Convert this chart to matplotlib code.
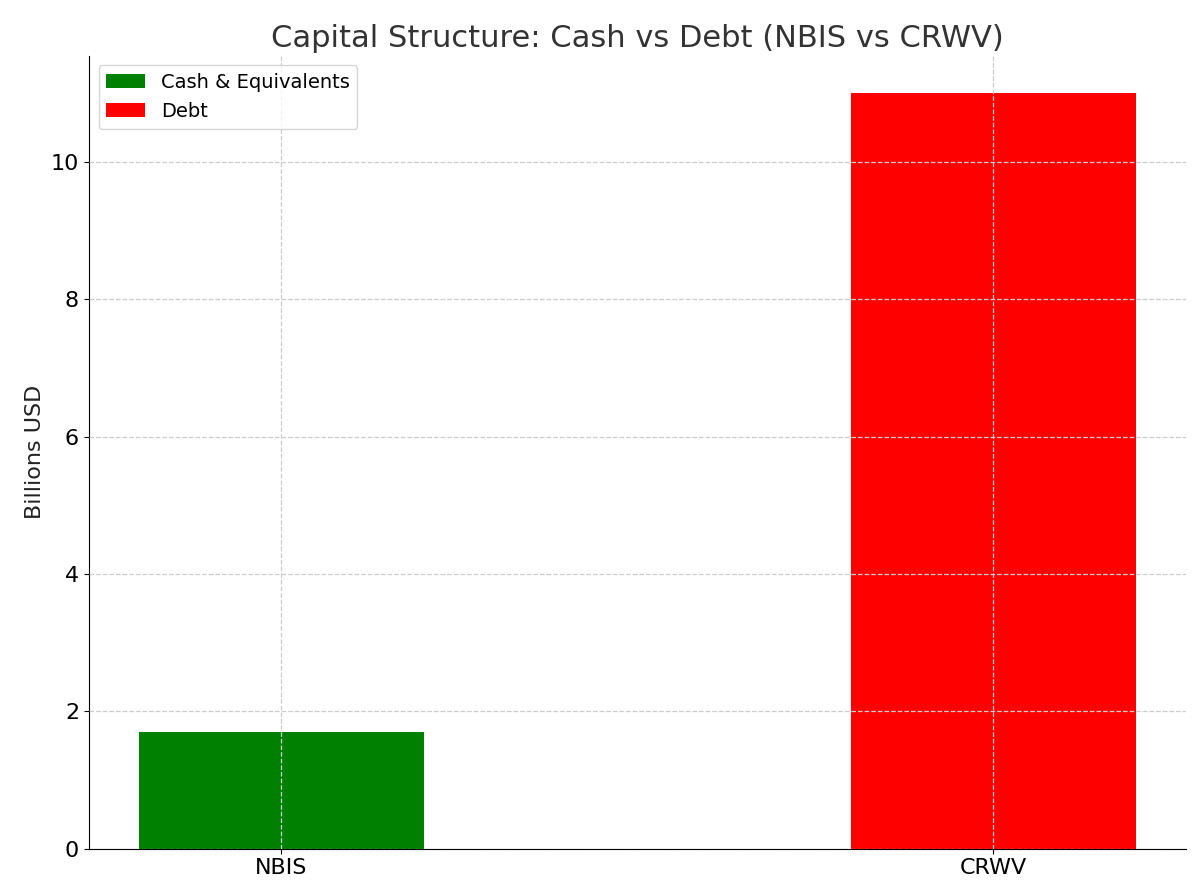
import matplotlib
matplotlib.use("Agg")
import matplotlib.pyplot as plt

companies = ["NBIS", "CRWV"]
cash = [1.7]
debt = [11.0]

fig, ax = plt.subplots(figsize=(12, 8.96), dpi=100)
ax.bar([companies[0]], cash, width=0.4, color="green", label="Cash & Equivalents")
ax.bar([companies[1]], debt, width=0.4, color="red", label="Debt")
ax.set_title("Capital Structure: Cash vs Debt (NBIS vs CRWV)", fontsize=22, color="#333333")
ax.set_ylabel("Billions USD", fontsize=16, color="#222222")
ax.tick_params(labelsize=16)
ax.grid(True, linestyle="--", color="#cccccc", linewidth=0.9)
ax.set_axisbelow(False)
for s in ["top", "right"]:
    ax.spines[s].set_visible(False)
ax.legend(loc="upper left", fontsize=14)
fig.subplots_adjust(left=0.074, right=0.988, top=0.938, bottom=0.053)
fig.savefig("out.png")
